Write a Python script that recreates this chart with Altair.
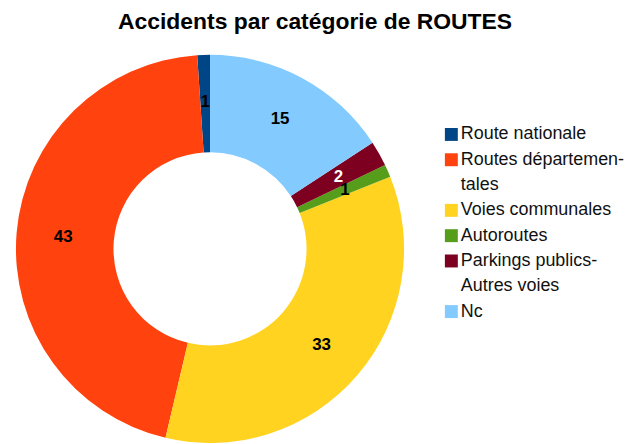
import altair as alt
import pandas as pd

categories = ["Route nationale", "Routes départementales", "Voies communales",
              "Autoroutes", "Parkings publics-Autres voies", "Nc"]
values = [1, 43, 33, 1, 2, 15]
colors = ["#004586", "#FF420E", "#FFD320", "#579D1C", "#7E0021", "#83CAFF"]

legend_lines = ["Route nationale", "Routes départemen-", "tales", "Voies communales",
                "Autoroutes", "Parkings publics-", "Autres voies", "Nc"]
legend_line_cat = ["Route nationale", "Routes départementales", None, "Voies communales",
                   "Autoroutes", "Parkings publics-Autres voies", None, "Nc"]

title_text = "Accidents par catégorie de ROUTES"

df = pd.DataFrame({
    "categorie": categories,
    "accidents": values,
    "ordre": list(range(len(categories)))[::-1],
})
leg_df = pd.DataFrame({"ligne": legend_lines, "categorie": legend_line_cat})

color_scale = alt.Scale(domain=categories, range=colors)

base = alt.Chart(df).encode(
    theta=alt.Theta("accidents:Q", stack=True),
    order=alt.Order("ordre:Q", sort="ascending"),
)

arcs = base.mark_arc(radius=195, radius2=97).encode(
    color=alt.Color("categorie:N", scale=color_scale, legend=None)
)

labels = base.mark_text(radius=148, fontSize=17, fontWeight="bold").encode(
    text="accidents:Q",
    detail="categorie:N",
    color=alt.condition(
        alt.datum.categorie == "Parkings publics-Autres voies",
        alt.value("white"),
        alt.value("black"),
    ),
)

donut = alt.layer(arcs, labels).properties(width=390, height=390)

yenc = alt.Y("ligne:N", sort=legend_lines,
             scale=alt.Scale(type="point", domain=legend_lines, range=[80, 258], padding=0),
             axis=None)

squares = alt.Chart(leg_df).transform_filter("datum.categorie != null").mark_square(
    size=169, opacity=1
).encode(
    x=alt.value(17.5),
    y=yenc,
    color=alt.Color("categorie:N", scale=color_scale, legend=None),
)

texts = alt.Chart(leg_df).mark_text(
    align="left", baseline="middle", fontSize=18, color="#111111"
).encode(
    x=alt.value(27),
    y=yenc,
    text="ligne:N",
)

legend = alt.layer(squares, texts).properties(width=168, height=390)

chart = alt.hconcat(donut, legend, spacing=30).properties(
    title=alt.TitleParams(text=title_text, fontSize=23, fontWeight="bold",
                          anchor="middle", offset=21, dx=-5, color="black"),
    padding={"left": 8, "top": 2, "right": 0, "bottom": 0},
).configure(font="Liberation Sans").configure_view(stroke=None)

chart.save("out.html", embed_options={"renderer": "svg", "actions": False})
